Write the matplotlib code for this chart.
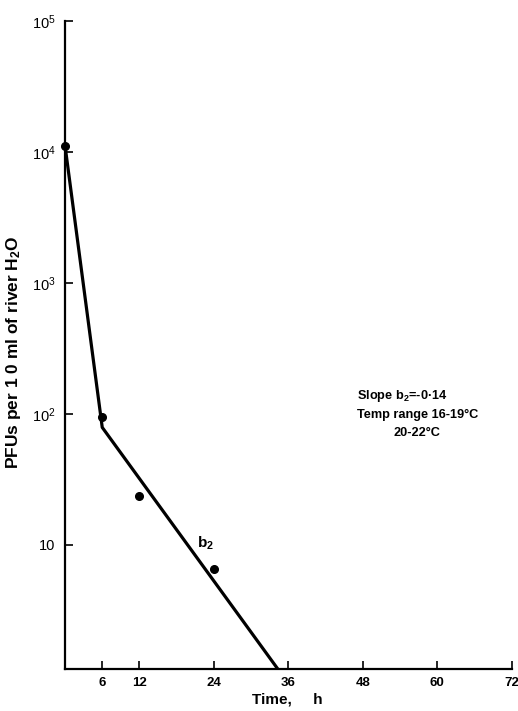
import numpy as np
import matplotlib
matplotlib.use("Agg")
import matplotlib.pyplot as plt

# measured points (time in h, PFUs per 10 ml)
obs_time = [0, 6, 12, 24]
obs_pfu = [1.12e4, 95, 23.5, 6.6]

# fitted two-phase line
fit_time = [0, 6, 34.3]
fit_pfu = [1.12e4, 79, 1.13]

x_ticks = [6, 12, 24, 36, 48, 60, 72]
y_ticks = [10, 1e2, 1e3, 1e4, 1e5]
y_labels = ["10", "10$^2$", "10$^3$", "10$^4$", "10$^5$"]

plt.rcParams["font.family"] = ["Liberation Sans", "DejaVu Sans"]
plt.rcParams["mathtext.fontset"] = "custom"
plt.rcParams["mathtext.rm"] = "Liberation Sans"
plt.rcParams["mathtext.it"] = "Liberation Sans"
plt.rcParams["mathtext.bf"] = "Liberation Sans:bold"

W, H = 518, 711
fig = plt.figure(figsize=(W / 100, H / 100), dpi=100)
ax = fig.add_axes([0.1255, 0.059, 0.8625, 0.9115])

ax.plot(fit_time, fit_pfu, color="black", lw=2.3, solid_capstyle="butt")
ax.plot(obs_time, obs_pfu, "o", color="black", ms=5.5, clip_on=False)

ax.set_yscale("log")
ax.set_xlim(0, 72)
ax.set_ylim(1.13, 1e5)

ax.spines["top"].set_visible(False)
ax.spines["right"].set_visible(False)
for s in ("left", "bottom"):
    ax.spines[s].set_linewidth(1.6)

ax.set_xticks(x_ticks)
ax.set_xticklabels([str(t) for t in x_ticks], fontsize=9.5, fontweight="bold")
ax.set_yticks(y_ticks)
ax.set_yticklabels(y_labels, fontsize=10.5)
ax.yaxis.set_minor_locator(matplotlib.ticker.NullLocator())
ax.tick_params(axis="both", direction="in", length=6, width=1.2)
ax.tick_params(axis="x", pad=5.5)
ax.tick_params(axis="y", pad=7)


def put(x, y, s, **kw):
    # place text by pixel position measured from the top-left corner
    fig.text(x / W, 1 - y / H, s, **kw)


put(287, 700, "Time,     h", ha="center", va="center",
    fontsize=11, fontweight="bold")
put(14, 352, r"PFUs per 1 0 ml of river H$_\mathbf{2}$O", rotation=90,
    ha="center", va="center", fontsize=12.5, fontweight="bold")

put(357, 396, r"Slope b$_\mathbf{2}$=-0·14", fontsize=9.2,
    fontweight="bold", va="center")
put(357, 415, "Temp range 16-19°C", fontsize=9.2,
    fontweight="bold", va="center")
put(393, 433, "20-22°C", fontsize=9.2, fontweight="bold", va="center")
ax.text(21.3, 9.6, r"b$_\mathbf{2}$", fontsize=11, fontweight="bold")

fig.savefig("out.png", dpi=100)
